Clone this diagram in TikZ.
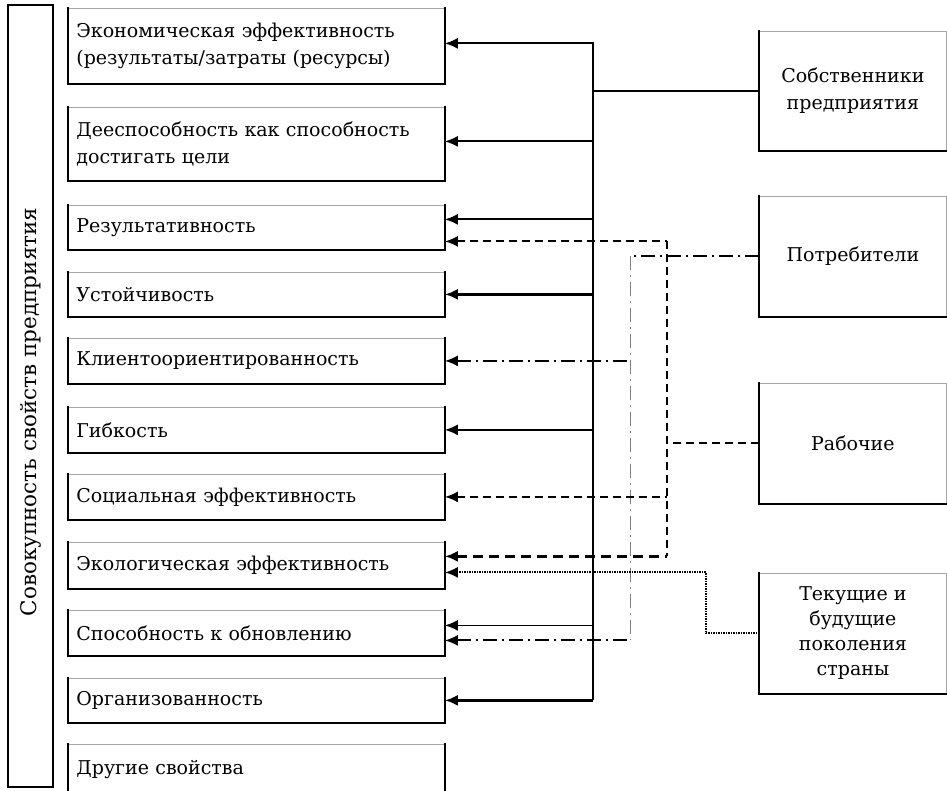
\documentclass[tikz,border=0pt]{standalone}
\usepackage{fontspec}
\setmainfont{DejaVu Serif}
\usetikzlibrary{arrows.meta}

\begin{document}
\begin{tikzpicture}[
        x=1pt, y=-1pt,
        font=\fontsize{19}{27}\selectfont,
        whole/.style={draw, line width=1.8pt, rotate=90, minimum width=782pt, minimum height=45pt, font=\fontsize{21.5}{26}\selectfont},
        prop/.style={draw=black!35, line width=0.8pt, anchor=north west, text width=360pt, inner xsep=8pt, align=left},
        actor/.style={draw=black!35, line width=0.8pt, anchor=north west, minimum width=187pt, minimum height=120pt, align=center},
        edge/.style={line width=1.8pt, line cap=rect},
        link/.style={line width=1.8pt},
        arr/.style={{Latex[length=13pt,width=11pt]}-, line width=1.8pt},
        arrthick/.style={arr, line width=3.5pt},
        dashlink/.style={line width=2pt, dash pattern=on 8pt off 5pt},
        dashthick/.style={line width=3.5pt, dash pattern=on 10pt off 6pt},
        dotlink/.style={line width=2pt, dash pattern=on 1.5pt off 1pt},
        ddlink/.style={line width=2pt, dash pattern=on 14pt off 5pt on 2pt off 5pt},
        ddthin/.style={line width=0.6pt, draw=black!50, dash pattern=on 14pt off 5pt on 2pt off 5pt}
    ]
    \useasboundingbox (0,0) rectangle (947,791);

    % Left: the whole set
    \node[whole] (set) at (30.5,396) {\hspace*{-32pt}Совокупность свойств предприятия};

    % Properties
    \node[prop, minimum height=75pt] (p1) at (68,8) {Экономическая эффективность\\(результаты/затраты (ресурсы)};
    \node[prop, minimum height=73pt] (p2) at (68,107) {Дееспособность как способность\\достигать цели};
    \node[prop, minimum height=44pt] (p3) at (68,205) {Результативность};
    \node[prop, minimum height=44pt] (p4) at (68,272) {Устойчивость};
    \node[prop, minimum height=45pt] (p5) at (68,338) {Клиентоориентированность};
    \node[prop, minimum height=45pt] (p6) at (68,407) {Гибкость};
    \node[prop, minimum height=45pt] (p7) at (68,474) {Социальная эффективность};
    \node[prop, minimum height=46pt] (p8) at (68,542) {Экологическая эффективность};
    \node[prop, minimum height=45pt] (p9) at (68,610) {Способность к обновлению};
    \node[prop, minimum height=44pt] (p10) at (68,678) {Организованность};
    \node[prop, minimum height=50pt] (p11) at (68,744) {Другие свойства};
    \foreach \n in {p1,p2,p3,p4,p5,p6,p7,p8,p9,p10,p11}
        \draw[edge] (\n.north west) -- (\n.south west) -- (\n.south east) -- (\n.north east);

    % Right: stakeholders
    \node[actor, minimum height=119pt] (owners) at (759,31) {Собственники\\предприятия};
    \node[actor] (consumers) at (759,196) {Потребители};
    \node[actor] (workers) at (759,383) {Рабочие};
    \node[actor, font=\fontsize{19}{25}\selectfont] (gens) at (759,573) {Текущие и\\будущие\\поколения\\страны};
    \foreach \n in {owners,consumers,workers,gens}
        \draw[edge] (\n.north west) -- (\n.south west) -- (\n.south east);

    % Buses
    \coordinate (bus) at (593,0);
    \coordinate (cbus) at (630,0);
    \coordinate (wbus) at (667,0);
    \coordinate (gbus) at (706,0);

    % Split arrow ends
    \coordinate (p3a) at ([yshift=8pt]p3.east);
    \coordinate (p3b) at ([yshift=-14pt]p3.east);
    \coordinate (p8a) at ([yshift=9pt]p8.east);
    \coordinate (p8b) at ([yshift=-7pt]p8.east);
    \coordinate (p9a) at ([yshift=7.5pt]p9.east);
    \coordinate (p9b) at ([yshift=-7.5pt]p9.east);

    % Owners
    \draw[link] (owners.west) -- (owners.west -| bus);
    \draw[link] (bus |- p1.north) ++(0,35) -- (bus |- p10.east);
    \draw[arr] ([yshift=2.5pt]p1.east) -- ++(149,0);
    \draw[arr] ([yshift=2.5pt]p2.east) -- ++(149,0);
    \draw[arr] (p3a) -- (p3a -| bus);
    \draw[arrthick] (p4.east) -- (p4.east -| bus);
    \draw[arr] (p6.east) -- (p6.east -| bus);
    \draw[arr] (p9a) -- (p9a -| bus);
    \draw[arrthick] (p10.east) -- (p10.east -| bus);

    % Consumers
    \draw[ddlink] (consumers.west) -- (consumers.west -| cbus);
    \draw[ddthin] (consumers.west -| cbus) -- (cbus |- p9b);
    \draw[arr, ddlink] (p5.east) -- (p5.east -| cbus);
    \draw[arr, ddlink] (p9b) -- (p9b -| cbus);

    % Workers
    \draw[dashlink] (workers.west) -- (workers.west -| wbus);
    \draw[dashlink] (wbus |- p3b) -- (wbus |- p8a);
    \draw[arr, dashlink] (p3b) -- (p3b -| wbus);
    \draw[arr, dashlink] (p7.east) -- (p7.east -| wbus);
    \draw[arrthick, dashthick] (p8a) -- (p8a -| wbus);

    % Generations
    \draw[arr, dotlink] (p8b) -- (p8b -| gbus) -- (gbus |- gens.west) -- (gens.west);

\end{tikzpicture}
\end{document}
